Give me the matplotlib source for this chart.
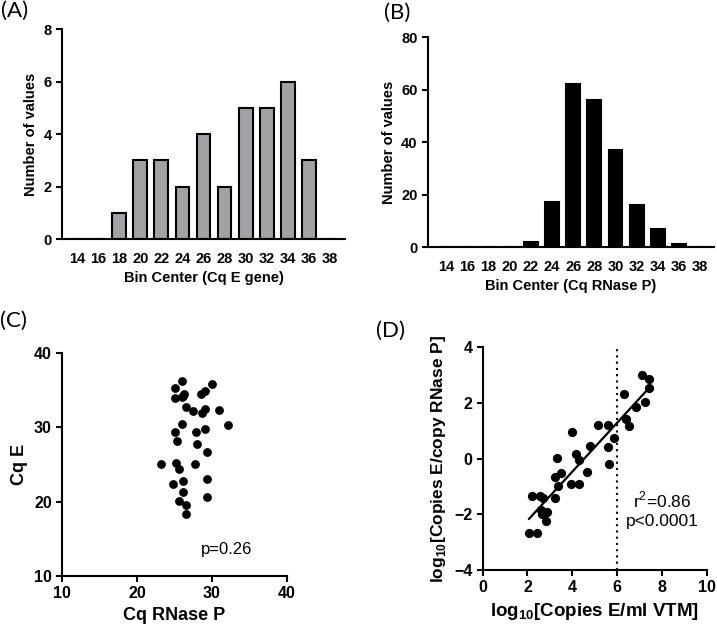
import numpy as np
import matplotlib
matplotlib.use("Agg")
import matplotlib.pyplot as plt

plt.rcParams['font.family'] = ['Liberation Sans', 'DejaVu Sans']
plt.rcParams['mathtext.fontset'] = 'custom'
plt.rcParams['mathtext.rm'] = 'Liberation Sans'
plt.rcParams['mathtext.bf'] = 'Liberation Sans:bold'

# Histogram data: bin centres and counts
bin_centers = [14, 16, 18, 20, 22, 24, 26, 28, 30, 32, 34, 36, 38]
counts_e = [0, 0, 1, 3, 3, 2, 4, 2, 5, 5, 6, 3, 0]
counts_rnasep = [0, 0, 0, 0, 2, 17, 62, 56, 37, 16, 7, 1, 0]

# (C) Cq RNase P vs Cq E
cq_rnasep = [26.0, 25.1, 30.0, 26.3, 25.1, 26.0, 28.6, 29.1, 26.6, 27.5, 28.7,
             29.1, 31.0, 26.0, 32.1, 25.0, 27.9, 29.1, 25.3, 28.0, 29.4, 23.2,
             25.2, 25.6, 27.8, 29.4, 24.8, 26.2, 26.2, 29.3, 25.6, 26.6, 26.5, 26.2]
cq_e = [36.2, 35.2, 35.8, 34.5, 33.9, 34.0, 34.5, 34.8, 32.7, 32.2, 31.9,
        32.5, 32.3, 30.4, 30.3, 29.4, 29.4, 29.8, 28.2, 27.7, 26.6, 25.1,
        25.2, 24.4, 25.1, 23.1, 22.3, 22.8, 21.3, 20.6, 20.1, 19.5, 18.3, 34.2]

# (D) log10 copies E/ml VTM vs log10 copies E/copy RNase P
log_copies_vtm = [7.10, 7.41, 6.31, 7.44, 7.25, 6.86, 6.38, 6.55, 5.61, 5.13,
                  5.88, 5.60, 5.63, 3.99, 4.79, 4.15, 4.29, 4.67, 3.32, 3.50,
                  3.24, 3.38, 3.93, 4.29, 3.21, 2.22, 2.56, 2.68, 2.86, 2.65,
                  2.81, 2.07, 2.41, 2.60]
log_ratio = [3.00, 2.85, 2.31, 2.53, 2.02, 1.87, 1.43, 1.16, 1.21, 1.21,
             0.75, 0.41, -0.18, 0.96, 0.44, 0.17, -0.05, -0.48, 0.02, -0.53,
             -0.65, -0.98, -0.92, -0.92, -1.43, -1.33, -1.33, -1.43, -1.90, -2.00,
             -2.25, -2.68, -2.68, -1.85]

fig = plt.figure(figsize=(7.17, 6.36), dpi=100)

def style_axes(ax):
    for s in ['top', 'right']:
        ax.spines[s].set_visible(False)
    for s in ['left', 'bottom']:
        ax.spines[s].set_linewidth(1.5)
    ax.tick_params(width=1.5, length=4, labelsize=10.5)
    for lab in ax.get_xticklabels() + ax.get_yticklabels():
        lab.set_fontweight('bold')

# Histogram panels
hist_specs = [
    ([0.0865, 0.6242, 0.3947, 0.3302], counts_e, '#a2a2a6', 'Bin Center (Cq E gene)', (0, 8), [0, 2, 4, 6, 8], (12.58, 39.42)),
    ([0.597, 0.6116, 0.3989, 0.3302], counts_rnasep, 'black', 'Bin Center (Cq RNase P)', (0, 80), [0, 20, 40, 60, 80], (12.3, 39.3)),
]
for rect, counts, col, xlab, ylim, yticks, xlim in hist_specs:
    ax = fig.add_axes(rect)
    ax.bar(bin_centers, counts, width=1.3, color=col, edgecolor='black', linewidth=1.5)
    ax.set_xlim(*xlim)
    ax.set_ylim(*ylim)
    ax.set_yticks(yticks)
    ax.set_xticks(bin_centers)
    ax.set_ylabel('Number of values', fontsize=10.5, fontweight='bold')
    ax.set_xlabel(xlab, fontsize=10.5, fontweight='bold')
    style_axes(ax)
    ax.tick_params(axis='x', length=0, pad=9)

# (C)
axc = fig.add_axes([0.0869, 0.0943, 0.313, 0.3511])
axc.scatter(cq_rnasep, cq_e, s=40, color='black', linewidths=0)
axc.set_xlim(10, 40)
axc.set_ylim(10, 40)
axc.set_xticks([10, 20, 30, 40])
axc.set_yticks([10, 20, 30, 40])
axc.set_xlabel('Cq RNase P', fontsize=13, fontweight='bold')
axc.set_ylabel('Cq E', fontsize=13, fontweight='bold')
style_axes(axc)
axc.tick_params(labelsize=11.5)
axc.text(32, 13.5, 'p=0.26', fontsize=12, ha='center', va='center')

# (D)
axd = fig.add_axes([0.6732, 0.1038, 0.3124, 0.3502])
axd.scatter(log_copies_vtm, log_ratio, s=44, color='black', linewidths=0, zorder=3)
xv = np.array(log_copies_vtm)
slope, icpt = np.polyfit(xv, log_ratio, 1)
xs = np.array([xv.min(), xv.max()])
axd.plot(xs, slope * xs + icpt, color='black', lw=1.6, zorder=4)
axd.axvline(6, color='black', lw=1.5, ls=(0, (1, 2)))
axd.set_xlim(0, 10)
axd.set_ylim(-4, 4)
axd.set_xticks([0, 2, 4, 6, 8, 10])
axd.set_yticks([-4, -2, 0, 2, 4])
axd.set_xlabel(r'log$_{\mathbf{10}}$[Copies E/ml VTM]', fontsize=13.5, fontweight='bold')
axd.set_ylabel(r'log$_{\mathbf{10}}$[Copies E/copy RNase P]', fontsize=12.5, fontweight='bold')
style_axes(axd)
axd.tick_params(labelsize=11.5)
axd.text(8.0, -1.5, r'r$^{\mathrm{2}}$=0.86', fontsize=12.5, ha='center', va='center')
axd.text(8.0, -2.27, 'p<0.0001', fontsize=12.5, ha='center', va='center')

# Panel letters
for x, y, lab in [(0.002, 0.999, '(A)'), (0.535, 0.995, '(B)'), (0.0, 0.512, '(C)'), (0.524, 0.495, '(D)')]:
    fig.text(x, y, lab, fontsize=16, ha='left', va='top', family=['Lato', 'DejaVu Sans'])

fig.savefig('out.png', dpi=100)
